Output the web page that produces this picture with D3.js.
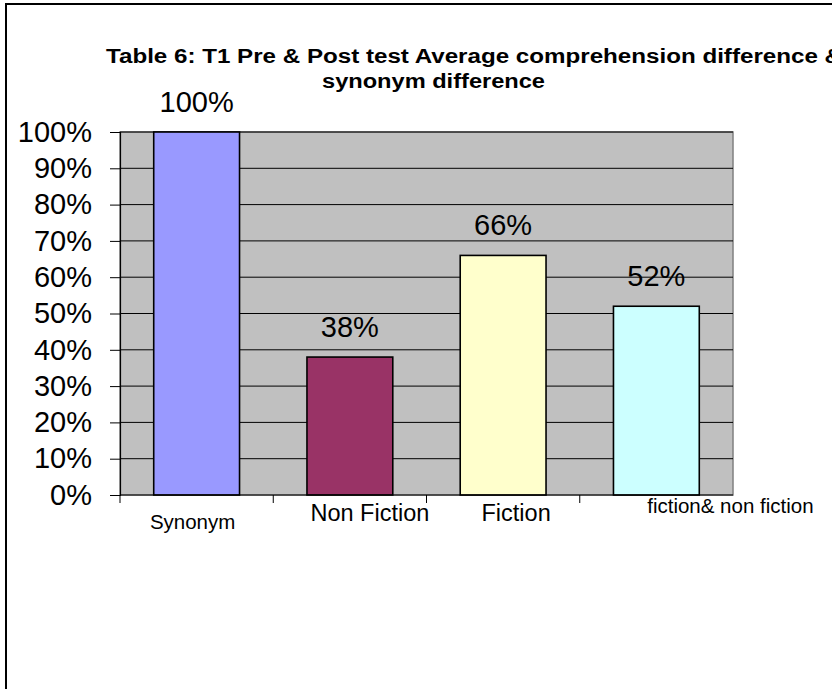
<!DOCTYPE html>
<html>
<head>
<meta charset="utf-8">
<script src="https://cdn.jsdelivr.net/npm/d3@7/dist/d3.min.js"></script>
<style>
  html, body { margin: 0; padding: 0; background: #fff; }
  svg { display: block; }
  text { font-family: "Liberation Sans", Arial, Helvetica, sans-serif; fill: #000; }
</style>
</head>
<body>
<div id="chart"></div>
<script>
// Chart data
const categories = ["Synonym", "Non Fiction", "Fiction", "fiction& non fiction"];
const values = [100, 38, 66, 52];
const barColors = ["#9999FF", "#993366", "#FFFFCC", "#CCFFFF"];
const yTicks = [0, 10, 20, 30, 40, 50, 60, 70, 80, 90, 100];
const titleLines = [
  "Table 6: T1 Pre & Post test  Average comprehension difference  &",
  "synonym difference"
];

// Category label placement (offset from band centre, baseline, font size)
const catLabelLayout = [
  { dx: -4, y: 529, size: 20.5 },
  { dx: 20, y: 521, size: 23.5 },
  { dx: 13, y: 521, size: 23.5 },
  { dx: 74, y: 513, size: 20.5 }
];

const W = 832, H = 689;
const plot = { left: 120, right: 733, top: 132, bottom: 495 };

const svg = d3.select("#chart").append("svg")
  .attr("width", W).attr("height", H);

// Outer frame (top and left edges visible)
svg.append("path")
  .attr("d", `M6,${H} L6,4 L${W},4`)
  .attr("fill", "none").attr("stroke", "#000").attr("stroke-width", 2);

const x = d3.scaleBand().domain(categories).range([plot.left, plot.right]);
const y = d3.scaleLinear().domain([0, 100]).range([plot.bottom, plot.top]);

// Plot area background
svg.append("rect")
  .attr("x", plot.left).attr("y", plot.top)
  .attr("width", plot.right - plot.left).attr("height", plot.bottom - plot.top)
  .attr("fill", "#C0C0C0").attr("stroke", "#808080").attr("stroke-width", 1.5);

// Horizontal gridlines
svg.append("g").selectAll("line")
  .data(yTicks.filter(t => t > 0))
  .join("line")
  .attr("x1", plot.left).attr("x2", plot.right)
  .attr("y1", d => y(d)).attr("y2", d => y(d))
  .attr("stroke", "#000").attr("stroke-width", 1);

// Y axis
const yAxis = d3.axisLeft(y).tickValues(yTicks).tickFormat(d => d + "%")
  .tickSize(10).tickPadding(18);
const gy = svg.append("g").attr("transform", `translate(${plot.left},0)`).call(yAxis);
gy.select(".domain").attr("stroke", "#000").attr("stroke-width", 1.2);
gy.selectAll(".tick line").attr("stroke", "#000");
gy.selectAll(".tick text")
  .attr("font-size", 29).attr("font-family", '"Liberation Sans", Arial, sans-serif')
  .attr("fill", "#000");

// Bars
const barW = x.bandwidth() * 0.56;
svg.append("g").selectAll("rect")
  .data(values)
  .join("rect")
  .attr("x", (d, i) => x(categories[i]) + (x.bandwidth() - barW) / 2)
  .attr("y", d => y(d))
  .attr("width", barW)
  .attr("height", d => y(0) - y(d))
  .attr("fill", (d, i) => barColors[i])
  .attr("stroke", "#000").attr("stroke-width", 1.6);

// X axis line and boundary ticks
const boundaries = categories.map(c => x(c));
svg.append("line")
  .attr("x1", plot.left).attr("x2", plot.right)
  .attr("y1", plot.bottom).attr("y2", plot.bottom)
  .attr("stroke", "#000").attr("stroke-width", 1.2);
svg.append("g").selectAll("line")
  .data(boundaries)
  .join("line")
  .attr("x1", d => d).attr("x2", d => d)
  .attr("y1", plot.bottom).attr("y2", plot.bottom + 8)
  .attr("stroke", "#000").attr("stroke-width", 1);

// Category labels
svg.append("g").selectAll("text")
  .data(categories)
  .join("text")
  .attr("x", (d, i) => x(d) + x.bandwidth() / 2 + catLabelLayout[i].dx)
  .attr("y", (d, i) => catLabelLayout[i].y)
  .attr("text-anchor", "middle")
  .attr("font-size", (d, i) => catLabelLayout[i].size)
  .text(d => d);

// Value labels above bars
svg.append("g").selectAll("text")
  .data(values)
  .join("text")
  .attr("x", (d, i) => x(categories[i]) + x.bandwidth() / 2)
  .attr("y", d => y(d) - 20)
  .attr("text-anchor", "middle")
  .attr("font-size", 29)
  .text(d => d + "%");

// Title (two lines, bold, slightly widened)
svg.append("text")
  .attr("x", 106).attr("y", 63)
  .attr("font-size", 20).attr("font-weight", "bold")
  .attr("textLength", 736).attr("lengthAdjust", "spacingAndGlyphs")
  .text(titleLines[0]);
svg.append("text")
  .attr("x", 322).attr("y", 88)
  .attr("font-size", 20).attr("font-weight", "bold")
  .attr("textLength", 223).attr("lengthAdjust", "spacingAndGlyphs")
  .text(titleLines[1]);
</script>
</body>
</html>
